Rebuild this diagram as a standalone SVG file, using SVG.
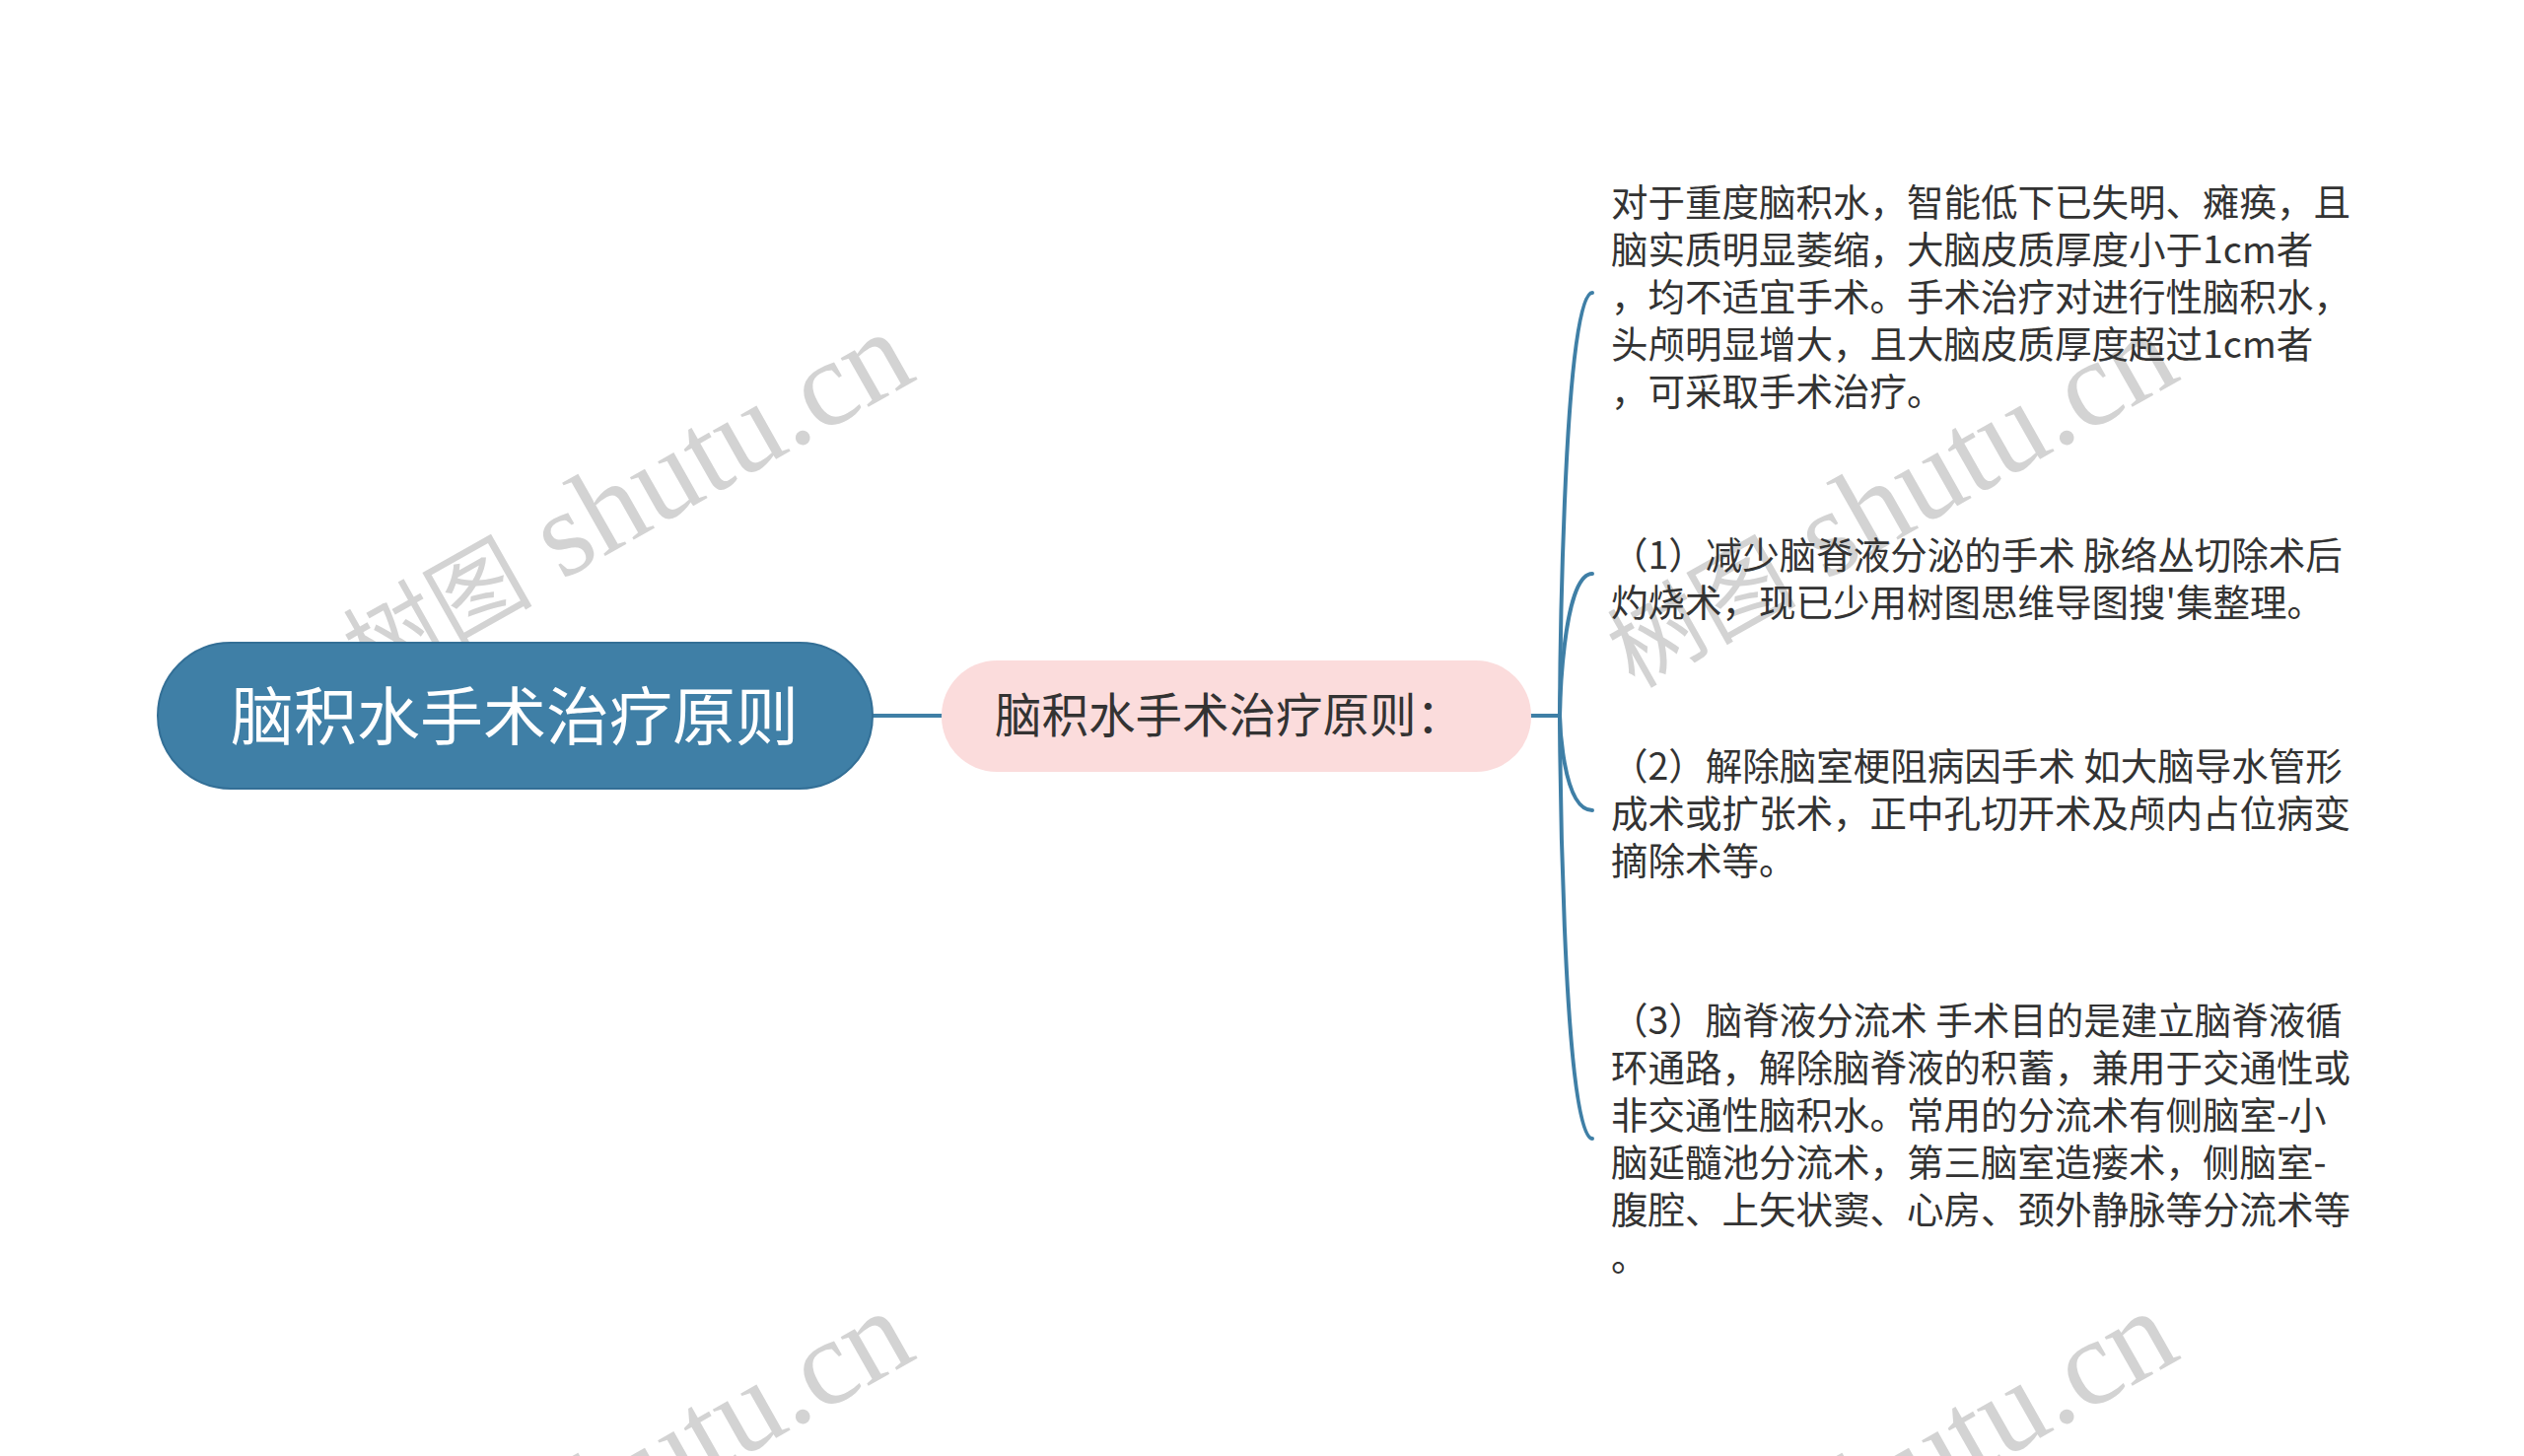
<svg xmlns="http://www.w3.org/2000/svg" width="2560" height="1477" viewBox="0 0 2560 1477">
<style>
.wm{font-family:"Liberation Serif","Noto Sans CJK SC",serif;font-size:124px;fill:#d3d3d3}
.wmc{font-family:"Noto Sans CJK SC","Liberation Serif",serif;font-size:96px}
.t{font-family:"Noto Sans CJK SC","Noto Sans",sans-serif;font-size:37.5px;fill:#333333}
.conn{fill:none;stroke:#3f7fa6;stroke-width:4;stroke-linecap:round}
</style>
<rect x="0" y="0" width="2560" height="1477" fill="#ffffff"/>
<g id="watermarks">
<text class="wm" transform="translate(375.5 698.7) rotate(-29.5)"><tspan class="wmc">树图</tspan> shutu.cn</text>
<text class="wm" transform="translate(1657.5 698.7) rotate(-29.5)"><tspan class="wmc">树图</tspan> shutu.cn</text>
<text class="wm" transform="translate(375.5 1691.7) rotate(-29.5)"><tspan class="wmc">树图</tspan> shutu.cn</text>
<text class="wm" transform="translate(1657.5 1691.7) rotate(-29.5)"><tspan class="wmc">树图</tspan> shutu.cn</text>
</g>
<g id="connectors">
<path class="conn" d="M885 726 L955 726"/>
<path class="conn" d="M1553 726 L1582 726"/>
<path class="conn" d="M1582 726 C1582 726 1584 297 1615 297"/>
<path class="conn" d="M1582 726 C1582 726 1584 582 1615 582"/>
<path class="conn" d="M1582 726 C1582 726 1584 822 1615 822"/>
<path class="conn" d="M1582 726 C1582 726 1584 1155 1615 1155"/>
</g>
<g id="root">
<rect x="160" y="652" width="725" height="148" rx="74" ry="74" fill="#3f7fa6" stroke="#336f96" stroke-width="2"/>
<text x="522" y="750" text-anchor="middle" font-family="Noto Sans CJK SC, Noto Sans, sans-serif" font-size="64" fill="#ffffff">脑积水手术治疗原则</text>
</g>
<g id="main">
<rect x="955" y="670" width="598" height="113" rx="56" ry="56" fill="#fbdcdc"/>
<text x="1009" y="743" font-family="Noto Sans CJK SC, Noto Sans, sans-serif" font-size="47.5" fill="#333333">脑积水手术治疗原则：</text>
</g>
<g id="leaf1">
<text class="t" x="1634" y="219">对于重度脑积水，智能低下已失明、瘫痪，且</text>
<text class="t" x="1634" y="267">脑实质明显萎缩，大脑皮质厚度小于1cm者</text>
<text class="t" x="1634" y="315">，均不适宜手术。手术治疗对进行性脑积水，</text>
<text class="t" x="1634" y="363">头颅明显增大，且大脑皮质厚度超过1cm者</text>
<text class="t" x="1634" y="411">，可采取手术治疗。</text>
</g>
<g id="leaf2">
<text class="t" x="1634" y="577">（1）减少脑脊液分泌的手术 脉络丛切除术后</text>
<text class="t" x="1634" y="625">灼烧术，现已少用树图思维导图搜'集整理。</text>
</g>
<g id="leaf3">
<text class="t" x="1634" y="791">（2）解除脑室梗阻病因手术 如大脑导水管形</text>
<text class="t" x="1634" y="839">成术或扩张术，正中孔切开术及颅内占位病变</text>
<text class="t" x="1634" y="887">摘除术等。</text>
</g>
<g id="leaf4">
<text class="t" x="1634" y="1049">（3）脑脊液分流术 手术目的是建立脑脊液循</text>
<text class="t" x="1634" y="1097">环通路，解除脑脊液的积蓄，兼用于交通性或</text>
<text class="t" x="1634" y="1145">非交通性脑积水。常用的分流术有侧脑室-小</text>
<text class="t" x="1634" y="1193">脑延髓池分流术，第三脑室造瘘术，侧脑室-</text>
<text class="t" x="1634" y="1241">腹腔、上矢状窦、心房、颈外静脉等分流术等</text>
<text class="t" x="1634" y="1289">。</text>
</g>
</svg>
